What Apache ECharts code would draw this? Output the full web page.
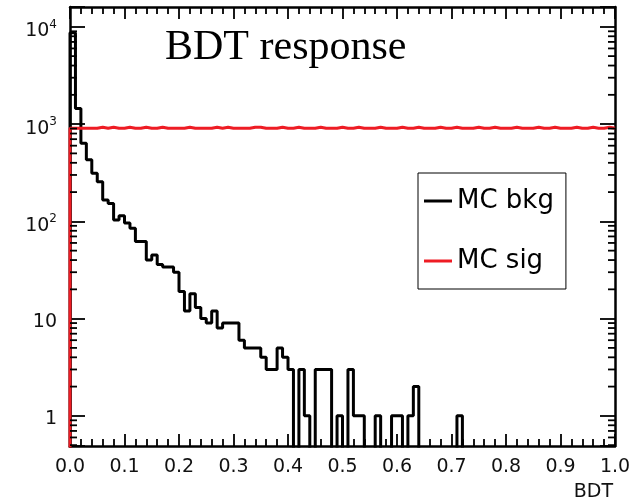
<!DOCTYPE html>
<html>
<head>
<meta charset="utf-8">
<script src="https://cdn.jsdelivr.net/npm/echarts@6/dist/echarts.min.js"></script>
<style>html,body{margin:0;padding:0;background:#fff}#c{width:634px;height:499px}</style>
</head>
<body>
<div id="c"></div>
<script>
// ---- data (100 bins of width 0.01 on BDT in [0,1]) ----
const binCount = 100;
const bkgCounts = [
  8700,1450,635,430,312,256,166,153,103,114,
  96,85,62,62,40,45,36,34,34,30,
  19,12,18,13,10,9,12,8,9,9,
  9,6,5,5,5,4,3,3,5,4,
  3,0,3,1,0,3,3,3,0,1,
  0,3,1,1,0,0,1,0,0,1,
  1,0,1,2,0,0,0,0,0,0,
  0,1,0,0,0,0,0,0,0,0,
  0,0,0,0,0,0,0,0,0,0,
  0,0,0,0,0,0,0,0,0,0
];
const sigCounts = [
  905,905,905,905,905,930,905,930,905,905,
  930,905,905,930,905,905,930,905,905,905,
  905,930,905,905,905,905,930,905,930,905,
  905,905,905,930,930,905,905,905,930,905,
  905,930,905,905,905,930,905,905,905,930,
  905,905,930,905,905,905,930,905,905,905,
  930,905,905,930,905,905,905,930,905,905,
  930,905,905,905,930,905,905,930,905,905,
  905,930,905,905,905,930,905,905,930,905,
  905,905,930,905,905,930,905,905,930,905
];
const seriesNames = ['MC bkg', 'MC sig'];
const seriesColors = ['#000000', '#ee1c24'];
const titleText = 'BDT response';
const xAxisTitle = 'BDT';
const yMin = 0.49, yMax = 16000;

// ---- helpers ----
const FLOOR = 0.05; // empty bins drawn below the axis minimum (log scale)
function histPoints(counts, closeRight) {
  const pts = [[0, FLOOR]];
  counts.forEach((c, i) => {
    const v = c > 0 ? c : FLOOR;
    pts.push([i / binCount, v], [(i + 1) / binCount, v]);
  });
  if (closeRight) pts.push([1, FLOOR]);
  return pts;
}
const minorY = [];
for (let e = -1; e <= 4; e++) {
  for (let m = 2; m <= 9; m++) {
    const v = m * Math.pow(10, e);
    if (v > yMin && v < yMax) minorY.push([0, v]);
  }
}
function yLabel(v) {
  const e = Math.round(Math.log10(v));
  if (Math.abs(Math.log10(v) - e) > 1e-6) return '';
  if (e === 0) return '1';
  if (e === 1) return '10';
  return '{b|10}{s|' + e + '}';
}

const FONT = 'DejaVu Sans';
const chart = echarts.init(document.getElementById('c'), null, {renderer: 'canvas'});
const xCommon = {
  type: 'value', min: 0, max: 1, interval: 0.1,
  axisLine: {show: true, onZero: false, lineStyle: {color: '#000', width: 2.5}},
  axisTick: {show: true, inside: true, length: 12, lineStyle: {color: '#000', width: 1.8}},
  minorTick: {show: true, splitNumber: 5, length: 7, lineStyle: {color: '#000', width: 1.8}},
  splitLine: {show: false}, minorSplitLine: {show: false}
};
const yCommon = {
  type: 'log', logBase: 10, min: yMin, max: yMax,
  axisLine: {show: true, onZero: false, lineStyle: {color: '#000', width: 2.5}},
  axisTick: {show: true, inside: true, length: 15, lineStyle: {color: '#000', width: 1.8}},
  splitLine: {show: false}
};
chart.setOption({
  animation: false,
  backgroundColor: '#fff',
  title: {
    text: titleText, left: 160, top: 22,
    textStyle: {fontFamily: 'Liberation Serif', fontSize: 42, fontWeight: 'normal', color: '#000'}
  },
  legend: {
    data: seriesNames.map(n => ({name: n, icon: 'rect'})),
    orient: 'vertical', left: 418, top: 173,
    itemWidth: 28, itemHeight: 3, itemGap: 30,
    padding: [13, 12, 13, 6],
    borderColor: '#000', borderWidth: 1, backgroundColor: '#fff',
    textStyle: {fontFamily: FONT, fontSize: 26, color: '#000', lineHeight: 30}
  },
  grid: {left: 70, right: 19, top: 7, bottom: 53, containLabel: false, outerBoundsMode: 'none'},
  xAxis: [
    Object.assign({}, xCommon, {
      position: 'bottom',
      name: xAxisTitle, nameLocation: 'end', nameGap: -2, nameMoveOverlap: false,
      nameTextStyle: {fontFamily: FONT, fontSize: 19, color: '#111', align: 'right', verticalAlign: 'top', padding: [37, 0, 0, 0]},
      axisLabel: {show: true, margin: 12, fontFamily: FONT, fontSize: 19, color: '#111',
        formatter: v => v.toFixed(1)}
    }),
    Object.assign({}, xCommon, {position: 'top', axisLabel: {show: false}})
  ],
  yAxis: [
    Object.assign({}, yCommon, {
      position: 'left',
      axisLabel: {show: true, margin: 13, fontFamily: FONT, fontSize: 19, color: '#111',
        formatter: yLabel, padding: [6, 0, 0, 0],
        rich: {
          b: {fontFamily: FONT, fontSize: 19, color: '#111', verticalAlign: 'bottom', lineHeight: 22},
          s: {fontFamily: FONT, fontSize: 12, color: '#111', verticalAlign: 'top', lineHeight: 22, padding: [0, 0, 10, 0]}
        }
      }
    }),
    Object.assign({}, yCommon, {position: 'right', axisLabel: {show: false}})
  ],
  series: [
    {
      name: seriesNames[0], type: 'line', xAxisIndex: 0, yAxisIndex: 0,
      data: histPoints(bkgCounts, true), showSymbol: false, symbol: 'none', clip: true,
      color: seriesColors[0], lineStyle: {color: seriesColors[0], width: 3}, z: 3
    },
    {
      name: seriesNames[1], type: 'line', xAxisIndex: 0, yAxisIndex: 0,
      data: histPoints(sigCounts, false), showSymbol: false, symbol: 'none', clip: true,
      color: seriesColors[1], lineStyle: {color: seriesColors[1], width: 3}, z: 4
    },
    {
      name: 'minor-y-ticks', type: 'custom', xAxisIndex: 0, yAxisIndex: 0,
      data: minorY, encode: {x: 0, y: 1}, silent: true, z: 5, clip: false,
      renderItem: function (params, api) {
        const p0 = api.coord([0, api.value(1)]);
        const p1 = api.coord([1, api.value(1)]);
        const st = {stroke: '#000', lineWidth: 1.8};
        return {
          type: 'group',
          children: [
            {type: 'line', shape: {x1: p0[0], y1: p0[1], x2: p0[0] + 7, y2: p0[1]}, style: st},
            {type: 'line', shape: {x1: p1[0] - 7, y1: p1[1], x2: p1[0], y2: p1[1]}, style: st}
          ]
        };
      }
    }
  ]
});
</script>
</body>
</html>
